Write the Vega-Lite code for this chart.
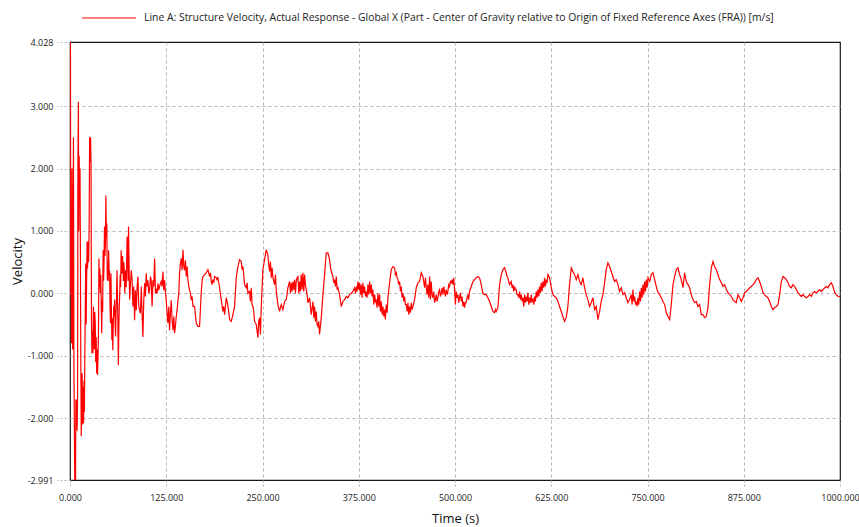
{
  "$schema": "https://vega.github.io/schema/vega-lite/v6.json",
  "width": 770,
  "height": 438,
  "autosize": {"type": "none"},
  "padding": {"left": 70, "top": 42, "right": 19, "bottom": 47},
  "background": "white",
  "config": {
    "font": "Open Sans",
    "view": {"stroke": "#1a1a1a", "strokeWidth": 1.2},
    "axis": {
      "grid": true,
      "gridColor": "#b4b4b4",
      "gridDash": [3, 3],
      "gridWidth": 1,
      "domain": false,
      "labelFlush": false,
      "tickColor": "#b4b4b4",
      "tickDash": [2, 2],
      "labelFont": "Open Sans",
      "labelFontSize": 9,
      "labelColor": "#222222",
      "titleFont": "Open Sans",
      "titleFontSize": 13,
      "titleFontWeight": "normal",
      "titleColor": "#111111"
    }
  },
  "data": {
    "values": [
      {"t":0,"v":0},{"t":0.2,"v":4.028},{"t":0.6,"v":3.9},{"t":0.9,"v":0.1},{"t":1.5,"v":1.1},{"t":2.0,"v":-0.8},{"t":2.5,"v":2.0},{"t":3.0,"v":0.5},{"t":3.4,"v":-0.9},{"t":3.9,"v":0.7},{"t":4.5,"v":2.5},{"t":5.0,"v":-1.0},{"t":5.5,"v":-1.8},{"t":6.2,"v":-2.99},{"t":6.6,"v":-2.5},{"t":7.2,"v":-2.99},{"t":7.6,"v":-1.7},{"t":8.2,"v":-2.1},{"t":8.6,"v":-1.7},{"t":9.2,"v":-2.2},{"t":9.8,"v":-1.7},{"t":10.3,"v":2.1},{"t":10.9,"v":3.07},{"t":11.4,"v":1.0},{"t":11.9,"v":2.2},{"t":12.5,"v":1.6},{"t":13.0,"v":2.0},{"t":13.5,"v":0.72},{"t":14.0,"v":-1.0},{"t":14.6,"v":-2.29},{"t":15.2,"v":-1.7},{"t":15.8,"v":-1.28},{"t":16.4,"v":-2.1},{"t":17.0,"v":-1.5},{"t":17.6,"v":-2.08},{"t":18.2,"v":-1.4},{"t":18.7,"v":-1.9},{"t":19.2,"v":-1.09},{"t":19.8,"v":-0.3},{"t":20.4,"v":0.48},{"t":21.0,"v":-0.5},{"t":21.6,"v":0.2},{"t":22.2,"v":0.83},{"t":22.8,"v":0.4},{"t":23.5,"v":0.83},{"t":24.2,"v":0.5},{"t":24.8,"v":1.0},{"t":25.5,"v":2.5},{"t":26.1,"v":2.1},{"t":26.7,"v":2.5},{"t":27.3,"v":2.08},{"t":27.9,"v":-0.43},{"t":28.5,"v":-0.96},{"t":29.1,"v":-0.6},{"t":29.8,"v":-0.96},{"t":30.4,"v":-0.21},{"t":31.0,"v":-0.5},{"t":31.6,"v":-0.9},{"t":32.2,"v":-0.3},{"t":32.8,"v":-0.48},{"t":33.4,"v":-1.1},{"t":34.0,"v":-0.7},{"t":34.6,"v":-1.28},{"t":35.2,"v":-0.9},{"t":35.8,"v":-1.31},{"t":36.4,"v":-1.0},{"t":37.0,"v":-0.6},{"t":37.6,"v":0.56},{"t":38.2,"v":0.1},{"t":38.8,"v":0.4},{"t":39.4,"v":0.0},{"t":40.0,"v":0.3},{"t":40.6,"v":-0.2},{"t":41.2,"v":-0.64},{"t":41.8,"v":-0.1},{"t":42.4,"v":-0.3},{"t":43.0,"v":0.69},{"t":43.6,"v":0.2},{"t":44.2,"v":0.5},{"t":44.8,"v":1.07},{"t":45.4,"v":0.6},{"t":46.0,"v":0.8},{"t":46.6,"v":1.57},{"t":47.2,"v":0.9},{"t":47.8,"v":1.12},{"t":48.4,"v":0.21},{"t":49.0,"v":0.5},{"t":49.6,"v":0.2},{"t":50.2,"v":0.69},{"t":50.8,"v":0.3},{"t":51.4,"v":0.37},{"t":52.0,"v":-0.2},{"t":52.6,"v":-0.48},{"t":53.2,"v":0.32},{"t":53.8,"v":-0.3},{"t":54.4,"v":-0.75},{"t":55.0,"v":-0.4},{"t":55.6,"v":-0.91},{"t":56.2,"v":-0.5},{"t":56.8,"v":-0.2},{"t":57.4,"v":-0.37},{"t":58.0,"v":-0.1},{"t":58.6,"v":-0.5},{"t":59.2,"v":-0.69},{"t":59.8,"v":-0.3},{"t":60.4,"v":-0.1},{"t":61.0,"v":0.37},{"t":61.6,"v":0.0},{"t":62.2,"v":-0.5},{"t":62.8,"v":-1.15},{"t":63.4,"v":-0.6},{"t":64.0,"v":-0.2},{"t":64.6,"v":0.0},{"t":65.2,"v":0.3},{"t":65.8,"v":0.1},{"t":66.4,"v":0.69},{"t":67.0,"v":0.4},{"t":67.6,"v":0.32},{"t":68.2,"v":0.6},{"t":68.8,"v":0.43},{"t":69.4,"v":0.2},{"t":70.0,"v":0.5},{"t":70.6,"v":0.32},{"t":71.2,"v":0.0},{"t":71.8,"v":0.3},{"t":72.4,"v":0.37},{"t":73.0,"v":0.1},{"t":73.6,"v":0.5},{"t":74.2,"v":0.91},{"t":74.8,"v":0.6},{"t":75.4,"v":0.2},{"t":76.0,"v":1.07},{"t":77.4,"v":-0.1},
      {"t":79.6,"v":0.37},{"t":80.7,"v":0.21},{"t":81.7,"v":-0.21},{"t":82.8,"v":0.11},{"t":83.9,"v":-0.43},{"t":85.0,"v":0.05},{"t":86.1,"v":-0.27},{"t":87.2,"v":0.11},{"t":88.2,"v":0.27},{"t":89.3,"v":-0.21},{"t":90.4,"v":-0.27},{"t":91.5,"v":-0.32},{"t":92.6,"v":0.11},{"t":93.7,"v":-0.37},{"t":94.7,"v":-0.7},{"t":95.8,"v":-0.11},{"t":96.9,"v":0.16},{"t":98.0,"v":-0.05},{"t":99.0,"v":0.32},{"t":100.1,"v":0.11},{"t":101.2,"v":0.21},{"t":102.3,"v":0.0},{"t":103.4,"v":0.05},{"t":104.5,"v":0.27},{"t":105.5,"v":0.21},{"t":106.6,"v":-0.21},{"t":107.7,"v":0.21},{"t":108.8,"v":0.11},{"t":109.9,"v":0.56},{"t":111.0,"v":0.0},{"t":112.0,"v":0.05},{"t":113.1,"v":0.0},{"t":114.2,"v":0.16},{"t":115.3,"v":0.05},{"t":116.4,"v":0.11},{"t":117.5,"v":0.16},{"t":118.5,"v":0.19},{"t":119.6,"v":0.11},{"t":120.7,"v":0.35},{"t":121.8,"v":0.05},{"t":122.9,"v":0.21},{"t":124.0,"v":0.0},{"t":125.0,"v":-0.11},{"t":126.1,"v":-0.32},{"t":127.2,"v":-0.48},{"t":128.3,"v":-0.21},{"t":129.3,"v":-0.59},{"t":130.4,"v":-0.32},{"t":131.5,"v":-0.11},{"t":132.6,"v":-0.43},{"t":133.7,"v":-0.59},{"t":134.8,"v":-0.37},{"t":135.8,"v":-0.64},{"t":136.9,"v":-0.53},{"t":138.0,"v":-0.37},{"t":139.1,"v":-0.27},{"t":140.2,"v":-0.11},{"t":141.3,"v":0.0},{"t":142.3,"v":0.32},{"t":143.4,"v":0.48},{"t":144.5,"v":0.56},{"t":145.6,"v":0.37},{"t":146.7,"v":0.7},{"t":147.8,"v":0.43},{"t":148.8,"v":0.37},{"t":149.9,"v":0.53},{"t":151.0,"v":0.27},{"t":152.1,"v":0.43},{"t":153.2,"v":0.21},{"t":154.3,"v":0.11},{"t":155.3,"v":0.05},{"t":156.4,"v":0.0},{"t":157.5,"v":-0.11},{"t":158.6,"v":-0.05},{"t":159.7,"v":-0.21},{"t":161.8,"v":-0.21},{"t":164.0,"v":-0.48},{"t":166.1,"v":-0.53},{"t":168.3,"v":-0.53},
      {"t":170.5,"v":0.03},{"t":171.5,"v":0.19},{"t":172.6,"v":0.27},{"t":174.8,"v":0.3},{"t":177.0,"v":0.33},{"t":179.1,"v":0.38},{"t":181.3,"v":0.27},{"t":182.4,"v":0.33},{"t":183.5,"v":0.19},{"t":184.5,"v":0.14},{"t":185.6,"v":0.22},{"t":186.7,"v":0.17},{"t":187.8,"v":0.27},{"t":190.0,"v":0.25},{"t":191.0,"v":0.22},{"t":192.1,"v":0.25},{"t":194.3,"v":0.09},{"t":196.4,"v":-0.1},{"t":198.6,"v":-0.29},{"t":199.6,"v":-0.21},{"t":200.8,"v":-0.34},{"t":202.9,"v":-0.07},{"t":204.0,"v":-0.13},{"t":205.1,"v":-0.21},{"t":206.1,"v":-0.29},{"t":207.3,"v":-0.42},{"t":209.4,"v":-0.45},{"t":211.6,"v":-0.34},{"t":213.8,"v":-0.2},{"t":215.9,"v":0.25},{"t":218.1,"v":0.43},{"t":220.3,"v":0.54},{"t":222.4,"v":0.51},{"t":223.5,"v":0.38},{"t":224.6,"v":0.43},{"t":225.6,"v":0.3},{"t":226.7,"v":0.14},{"t":228.9,"v":0.09},{"t":230.0,"v":0.17},{"t":231.1,"v":0.0},{"t":233.2,"v":0.03},{"t":234.3,"v":-0.13},{"t":235.4,"v":0.09},{"t":236.5,"v":-0.18},{"t":237.6,"v":-0.21},{"t":238.6,"v":-0.29},{"t":239.7,"v":-0.45},{"t":241.9,"v":-0.5},{"t":243.0,"v":-0.61},{"t":244.1,"v":-0.71},{"t":245.1,"v":-0.45},{"t":246.2,"v":-0.39},{"t":247.3,"v":-0.66},{"t":248.4,"v":-0.21},{"t":250.5,"v":0.38},{"t":252.7,"v":0.54},{"t":254.9,"v":0.7},{"t":257.0,"v":0.62},{"t":258.1,"v":0.46},{"t":259.2,"v":0.35},{"t":260.3,"v":0.51},{"t":261.4,"v":0.25},{"t":262.4,"v":0.41},{"t":263.5,"v":0.25},{"t":265.7,"v":0.14},{"t":266.8,"v":0.3},{"t":267.9,"v":0.03},{"t":268.9,"v":-0.07},{"t":270.0,"v":-0.18},{"t":272.2,"v":-0.29},{"t":273.3,"v":-0.23},{"t":274.4,"v":-0.18},{"t":276.5,"v":-0.26},{"t":278.7,"v":-0.13},{"t":280.9,"v":-0.1},{"t":283.0,"v":0.09},{"t":285.2,"v":0.19},{"t":286.3,"v":0.0},{"t":287.4,"v":0.17},{"t":288.4,"v":0.03},{"t":289.5,"v":0.19},{"t":290.6,"v":0.06},{"t":291.7,"v":0.22},{"t":292.8,"v":0.0},{"t":293.8,"v":0.19},{"t":294.9,"v":0.25},{"t":296.0,"v":0.27},{"t":297.1,"v":0.0},{"t":298.2,"v":0.19},{"t":299.2,"v":0.03},{"t":300.3,"v":0.3},{"t":301.4,"v":0.06},{"t":302.5,"v":0.33},{"t":303.6,"v":0.03},{"t":304.7,"v":0.3},{"t":305.7,"v":0.14},{"t":306.8,"v":0.06},{"t":307.9,"v":-0.02},{"t":309.0,"v":-0.15},{"t":311.2,"v":-0.07},{"t":312.2,"v":-0.21},{"t":313.3,"v":-0.34},{"t":315.5,"v":-0.13},{"t":316.6,"v":-0.39},{"t":317.7,"v":-0.21},{"t":318.7,"v":-0.45},{"t":319.8,"v":-0.29},{"t":320.9,"v":-0.5},{"t":322.0,"v":-0.53},{"t":323.1,"v":-0.45},{"t":324.1,"v":-0.66},{"t":326.3,"v":-0.39},{"t":328.5,"v":-0.02},{"t":330.6,"v":0.3},{"t":332.8,"v":0.65},{"t":335.0,"v":0.65},{"t":337.1,"v":0.54},{"t":338.2,"v":0.43},{"t":339.3,"v":0.35},{"t":341.5,"v":0.27},{"t":342.5,"v":0.17},{"t":343.6,"v":0.22},{"t":344.7,"v":0.11},{"t":345.8,"v":0.27},{"t":346.9,"v":0.06},{"t":348.0,"v":0.09},{"t":350.1,"v":-0.02},{"t":352.3,"v":-0.21},{"t":354.4,"v":-0.13},{"t":356.6,"v":-0.1},{"t":358.8,"v":-0.05},{"t":360.9,"v":-0.07},{"t":363.1,"v":-0.02},{"t":365.3,"v":0.0},{"t":367.4,"v":0.03},{"t":369.6,"v":0.09},{"t":370.7,"v":0.0},{"t":371.8,"v":0.11},{"t":372.8,"v":0.03},{"t":373.9,"v":0.19},{"t":375.0,"v":0.06},{"t":376.1,"v":0.17},{"t":377.2,"v":-0.02},{"t":378.3,"v":0.14},{"t":379.3,"v":-0.07},{"t":380.4,"v":0.17},{"t":381.5,"v":0.0},{"t":382.6,"v":0.11},{"t":383.7,"v":-0.05},{"t":384.8,"v":0.03},{"t":385.8,"v":-0.07},{"t":386.9,"v":0.14},{"t":388.0,"v":-0.02},{"t":389.1,"v":0.19},{"t":390.2,"v":0.0},{"t":391.3,"v":0.14},{"t":392.3,"v":-0.05},{"t":393.4,"v":0.06},{"t":394.5,"v":-0.18},{"t":395.6,"v":-0.02},{"t":396.7,"v":-0.13},{"t":397.7,"v":-0.1},{"t":398.8,"v":-0.23},{"t":399.9,"v":0.0},{"t":401.0,"v":-0.21},{"t":402.1,"v":-0.02},{"t":403.1,"v":-0.29},{"t":404.2,"v":-0.13},{"t":405.3,"v":-0.34},{"t":406.4,"v":-0.21},{"t":407.5,"v":-0.37},{"t":408.6,"v":-0.26},{"t":409.6,"v":-0.42},{"t":410.7,"v":-0.18},{"t":411.8,"v":-0.31},{"t":412.9,"v":-0.07},{"t":415.1,"v":0.17},{"t":417.2,"v":0.38},{"t":419.4,"v":0.43},{"t":421.6,"v":0.41},{"t":422.6,"v":0.3},{"t":423.7,"v":0.33},{"t":424.8,"v":0.25},{"t":425.9,"v":0.22},{"t":427.0,"v":0.14},{"t":428.1,"v":0.19},{"t":429.1,"v":0.03},{"t":430.2,"v":0.11},{"t":431.3,"v":-0.07},{"t":432.4,"v":0.0},{"t":433.5,"v":-0.13},{"t":434.5,"v":-0.05},{"t":435.6,"v":-0.18},{"t":436.7,"v":-0.18},{"t":437.8,"v":-0.29},{"t":438.9,"v":-0.15},{"t":439.9,"v":-0.34},{"t":441.0,"v":-0.21},{"t":442.1,"v":-0.31},{"t":443.2,"v":-0.15},{"t":444.3,"v":-0.26},{"t":445.4,"v":-0.21},{"t":447.5,"v":-0.1},{"t":449.7,"v":0.09},{"t":451.9,"v":0.17},{"t":454.0,"v":0.19},
      {"t":456.2,"v":0.33},{"t":458.3,"v":0.27},{"t":459.4,"v":0.19},{"t":460.5,"v":0.09},{"t":461.6,"v":0.25},{"t":462.7,"v":0.09},{"t":463.8,"v":-0.02},{"t":464.8,"v":0.14},{"t":465.9,"v":-0.07},{"t":467.0,"v":0.27},{"t":468.1,"v":-0.1},{"t":469.1,"v":0.19},{"t":470.2,"v":-0.02},{"t":471.3,"v":-0.07},{"t":472.4,"v":0.03},{"t":473.5,"v":-0.15},{"t":474.6,"v":-0.1},{"t":475.6,"v":-0.02},{"t":476.7,"v":-0.13},{"t":477.8,"v":-0.07},{"t":478.9,"v":0.03},{"t":480.0,"v":0.06},{"t":481.0,"v":-0.05},{"t":482.1,"v":0.0},{"t":483.2,"v":0.09},{"t":484.3,"v":-0.02},{"t":485.4,"v":0.11},{"t":486.5,"v":0.03},{"t":487.5,"v":-0.05},{"t":488.6,"v":0.06},{"t":489.7,"v":-0.02},{"t":490.8,"v":0.03},{"t":491.9,"v":0.14},{"t":493.0,"v":0.11},{"t":494.0,"v":0.19},{"t":495.1,"v":0.17},{"t":496.2,"v":0.22},{"t":497.3,"v":0.14},{"t":498.4,"v":0.25},{"t":499.4,"v":0.06},{"t":500.5,"v":-0.18},{"t":501.6,"v":0.03},{"t":502.7,"v":-0.07},{"t":503.8,"v":-0.02},{"t":504.8,"v":-0.15},{"t":505.9,"v":-0.07},{"t":507.0,"v":0.01},{"t":508.1,"v":-0.13},{"t":509.2,"v":-0.05},{"t":510.3,"v":-0.21},{"t":511.3,"v":-0.13},{"t":512.4,"v":-0.23},{"t":513.5,"v":-0.15},{"t":514.6,"v":-0.15},{"t":515.7,"v":-0.07},{"t":516.8,"v":-0.02},{"t":517.8,"v":-0.1},{"t":518.9,"v":0.03},{"t":521.1,"v":0.11},{"t":523.3,"v":0.19},{"t":525.4,"v":0.22},{"t":527.6,"v":0.25},{"t":529.8,"v":0.27},{"t":531.9,"v":0.25},{"t":534.1,"v":0.14},{"t":536.2,"v":0.0},{"t":538.4,"v":-0.02},{"t":540.6,"v":-0.02},{"t":542.7,"v":-0.07},{"t":544.9,"v":-0.13},{"t":547.1,"v":-0.21},{"t":549.2,"v":-0.29},{"t":551.4,"v":-0.31},{"t":552.5,"v":-0.26},{"t":553.6,"v":-0.29},{"t":555.7,"v":-0.23},{"t":557.9,"v":0.14},{"t":560.1,"v":0.3},{"t":562.2,"v":0.38},{"t":564.4,"v":0.41},{"t":566.5,"v":0.33},{"t":567.6,"v":0.27},{"t":568.7,"v":0.25},{"t":569.8,"v":0.19},{"t":570.9,"v":0.14},{"t":573.0,"v":0.19},{"t":574.1,"v":0.09},{"t":575.2,"v":0.14},{"t":576.3,"v":0.03},{"t":577.4,"v":0.11},{"t":578.4,"v":0.06},{"t":579.5,"v":0.06},{"t":580.6,"v":-0.02},{"t":581.7,"v":-0.02},{"t":582.8,"v":-0.07},{"t":583.9,"v":0.03},{"t":585.0,"v":-0.1},{"t":586.0,"v":-0.02},{"t":587.1,"v":-0.13},{"t":588.2,"v":-0.07},{"t":589.3,"v":-0.21},{"t":590.4,"v":-0.02},{"t":591.5,"v":-0.15},{"t":592.5,"v":-0.05},{"t":593.6,"v":-0.13},{"t":594.7,"v":0.01},{"t":595.8,"v":-0.18},{"t":596.9,"v":-0.07},{"t":598.0,"v":-0.15},{"t":599.0,"v":-0.02},{"t":600.1,"v":-0.13},{"t":601.2,"v":-0.1},{"t":602.3,"v":-0.18},{"t":603.4,"v":-0.05},{"t":604.5,"v":-0.13},{"t":605.5,"v":0.03},{"t":606.6,"v":-0.07},{"t":607.7,"v":0.06},{"t":608.8,"v":-0.05},{"t":609.8,"v":0.11},{"t":610.9,"v":0.01},{"t":612.0,"v":0.17},{"t":613.1,"v":0.03},{"t":614.2,"v":0.19},{"t":615.3,"v":0.09},{"t":616.3,"v":0.25},{"t":617.4,"v":0.11},{"t":618.5,"v":0.22},{"t":619.6,"v":0.17},{"t":620.7,"v":0.3},{"t":622.8,"v":0.25},{"t":625.0,"v":0.09},{"t":627.2,"v":-0.02},{"t":629.3,"v":-0.05},{"t":631.5,"v":-0.07},{"t":633.7,"v":-0.13},{"t":635.8,"v":-0.21},{"t":638.0,"v":-0.29},{"t":640.1,"v":-0.37},{"t":642.3,"v":-0.45},{"t":644.5,"v":-0.39},{"t":646.6,"v":-0.21},{"t":648.8,"v":0.14},{"t":651.0,"v":0.41},{"t":653.1,"v":0.35},{"t":655.3,"v":0.3},{"t":657.5,"v":0.22},{"t":659.6,"v":0.3},{"t":661.8,"v":0.19},{"t":664.0,"v":0.14},{"t":666.1,"v":0.25},{"t":668.3,"v":0.09},{"t":670.4,"v":-0.02},{"t":672.6,"v":-0.1},{"t":674.8,"v":-0.21},{"t":676.9,"v":-0.15},{"t":679.1,"v":-0.07},{"t":681.3,"v":-0.26},{"t":683.4,"v":-0.21},{"t":685.6,"v":-0.42},{"t":687.8,"v":-0.29},{"t":689.9,"v":-0.13},{"t":692.1,"v":-0.02},{"t":694.3,"v":0.17},{"t":696.4,"v":0.38},{"t":698.6,"v":0.49},{"t":700.8,"v":0.43},{"t":702.9,"v":0.35},{"t":705.1,"v":0.27},{"t":707.2,"v":0.19},{"t":709.4,"v":0.22},{"t":711.6,"v":0.14},{"t":713.7,"v":0.03},{"t":715.9,"v":0.09},{"t":718.1,"v":-0.02},{"t":720.2,"v":0.01},{"t":722.4,"v":-0.07},{"t":724.6,"v":-0.15},{"t":726.7,"v":-0.1},
      {"t":728.9,"v":-0.02},{"t":730.0,"v":-0.18},{"t":731.1,"v":0.06},{"t":732.2,"v":-0.13},{"t":733.3,"v":-0.05},{"t":734.4,"v":-0.18},{"t":735.5,"v":-0.13},{"t":736.5,"v":-0.21},{"t":737.6,"v":-0.07},{"t":738.7,"v":-0.18},{"t":739.8,"v":0.03},{"t":740.9,"v":-0.13},{"t":742.0,"v":0.09},{"t":743.0,"v":-0.07},{"t":744.1,"v":0.14},{"t":745.2,"v":-0.02},{"t":746.3,"v":0.19},{"t":747.4,"v":0.03},{"t":748.4,"v":0.22},{"t":749.5,"v":0.09},{"t":750.6,"v":0.25},{"t":752.8,"v":0.19},{"t":754.9,"v":0.3},{"t":757.1,"v":0.33},{"t":759.3,"v":0.22},{"t":761.4,"v":0.11},{"t":763.6,"v":0.01},{"t":765.8,"v":-0.02},{"t":767.9,"v":-0.07},{"t":770.1,"v":-0.13},{"t":772.3,"v":-0.18},{"t":774.4,"v":-0.31},{"t":776.6,"v":-0.37},{"t":778.7,"v":-0.42},{"t":780.9,"v":-0.18},{"t":783.1,"v":0.14},{"t":785.2,"v":0.27},{"t":787.4,"v":0.38},{"t":789.6,"v":0.41},{"t":791.7,"v":0.3},{"t":793.9,"v":0.22},{"t":796.1,"v":0.09},{"t":798.2,"v":0.33},{"t":800.4,"v":0.19},{"t":802.6,"v":0.14},{"t":804.7,"v":0.09},{"t":806.9,"v":-0.02},{"t":809.1,"v":-0.1},{"t":811.2,"v":-0.15},{"t":813.4,"v":-0.13},{"t":815.5,"v":-0.21},{"t":817.7,"v":-0.18},{"t":819.9,"v":-0.34},{"t":822.0,"v":-0.34},{"t":824.2,"v":-0.39},{"t":826.4,"v":-0.37},{"t":828.5,"v":-0.23},{"t":830.7,"v":0.14},{"t":832.9,"v":0.41},{"t":835.0,"v":0.51},{"t":837.2,"v":0.43},{"t":839.4,"v":0.38},{"t":841.5,"v":0.3},{"t":843.7,"v":0.22},{"t":845.9,"v":0.17},{"t":848.0,"v":0.11},{"t":850.2,"v":0.14},{"t":852.4,"v":0.06},{"t":854.5,"v":0.01},{"t":856.7,"v":-0.02},{"t":858.8,"v":-0.05},{"t":861.0,"v":-0.1},{"t":863.2,"v":-0.13},{"t":865.3,"v":-0.15},{"t":867.5,"v":-0.02},{"t":869.7,"v":-0.07},{"t":871.8,"v":-0.13},{"t":874.0,"v":-0.07},{"t":876.2,"v":0.01},{"t":878.3,"v":0.03},{"t":880.5,"v":0.06},{"t":882.7,"v":0.09},{"t":884.8,"v":0.11},{"t":887.0,"v":0.14},{"t":889.2,"v":0.17},{"t":891.3,"v":0.22},{"t":893.5,"v":0.25},{"t":895.6,"v":0.19},{"t":897.8,"v":0.11},{"t":900.0,"v":0.01},{"t":902.1,"v":-0.02},{"t":904.3,"v":-0.05},{"t":906.5,"v":-0.07},{"t":908.6,"v":-0.13},{"t":910.8,"v":-0.21},{"t":913.0,"v":-0.26},{"t":915.1,"v":-0.23},{"t":917.3,"v":-0.21},{"t":919.5,"v":-0.18},{"t":921.6,"v":-0.02},{"t":923.8,"v":0.19},{"t":926.0,"v":0.27},{"t":928.1,"v":0.25},{"t":930.3,"v":0.22},{"t":932.5,"v":0.17},{"t":934.6,"v":0.11},{"t":936.8,"v":0.09},{"t":938.9,"v":0.14},{"t":941.1,"v":0.11},{"t":943.3,"v":0.06},{"t":945.4,"v":0.01},{"t":947.6,"v":-0.02},{"t":949.8,"v":-0.05},{"t":951.9,"v":-0.02},{"t":954.1,"v":-0.05},{"t":956.3,"v":-0.07},{"t":958.4,"v":-0.05},{"t":960.6,"v":-0.02},{"t":962.8,"v":-0.05},{"t":964.9,"v":0.01},{"t":967.1,"v":0.03},{"t":969.3,"v":0.01},{"t":971.4,"v":0.03},{"t":973.6,"v":0.06},{"t":975.8,"v":0.03},{"t":977.9,"v":0.06},{"t":980.1,"v":0.09},{"t":982.3,"v":0.11},{"t":984.4,"v":0.09},{"t":986.6,"v":0.14},{"t":988.7,"v":0.17},{"t":990.9,"v":0.11},{"t":993.1,"v":0.01},{"t":995.2,"v":-0.02},{"t":997.4,"v":-0.05},{"t":999.6,"v":-0.05},{"t":1000,"v":-0.05}
    ]
  },
  "mark": {"type": "line", "strokeWidth": 1.2, "clip": true},
  "encoding": {
    "x": {
      "field": "t",
      "type": "quantitative",
      "scale": {"domain": [0, 1000], "nice": false, "zero": false},
      "axis": {
        "title": "Time (s)",
        "values": [0, 125, 250, 375, 500, 625, 750, 875, 1000],
        "format": ".3f",
        "gridOpacity": {"condition": {"test": "datum.value <= 0 || datum.value >= 1000", "value": 0}, "value": 1},
        "tickSize": 6,
        "labelPadding": 7,
        "titlePadding": 10
      }
    },
    "y": {
      "field": "v",
      "type": "quantitative",
      "scale": {"domain": [-2.991, 4.028], "nice": false, "zero": false},
      "axis": {
        "title": "Velocity",
        "values": [-2.991, -2, -1, 0, 1, 2, 3, 4.028],
        "labelExpr": "replace(format(datum.value, '.3f'), '\u2212', '-')",
        "gridOpacity": {"condition": {"test": "datum.value < -2.9 || datum.value > 4", "value": 0}, "value": 1},
        "tickSize": 13,
        "labelPadding": 4,
        "titlePadding": 3
      }
    },
    "color": {
      "datum": "Line A: Structure Velocity, Actual Response - Global X (Part - Center of Gravity relative to Origin of Fixed Reference Axes (FRA)) [m/s]",
      "scale": {"range": ["#ff0000"]},
      "legend": {
        "orient": "none",
        "legendX": 11,
        "legendY": -52,
        "title": null,
        "padding": 0,
        "symbolType": "stroke",
        "symbolSize": 2916,
        "symbolStrokeWidth": 1.2,
        "symbolStrokeColor": "#f04848",
        "labelOffset": 7,
        "labelFont": "Open Sans",
        "labelFontSize": 10.4,
        "labelColor": "#222222",
        "labelLimit": 0
      }
    }
  }
}
